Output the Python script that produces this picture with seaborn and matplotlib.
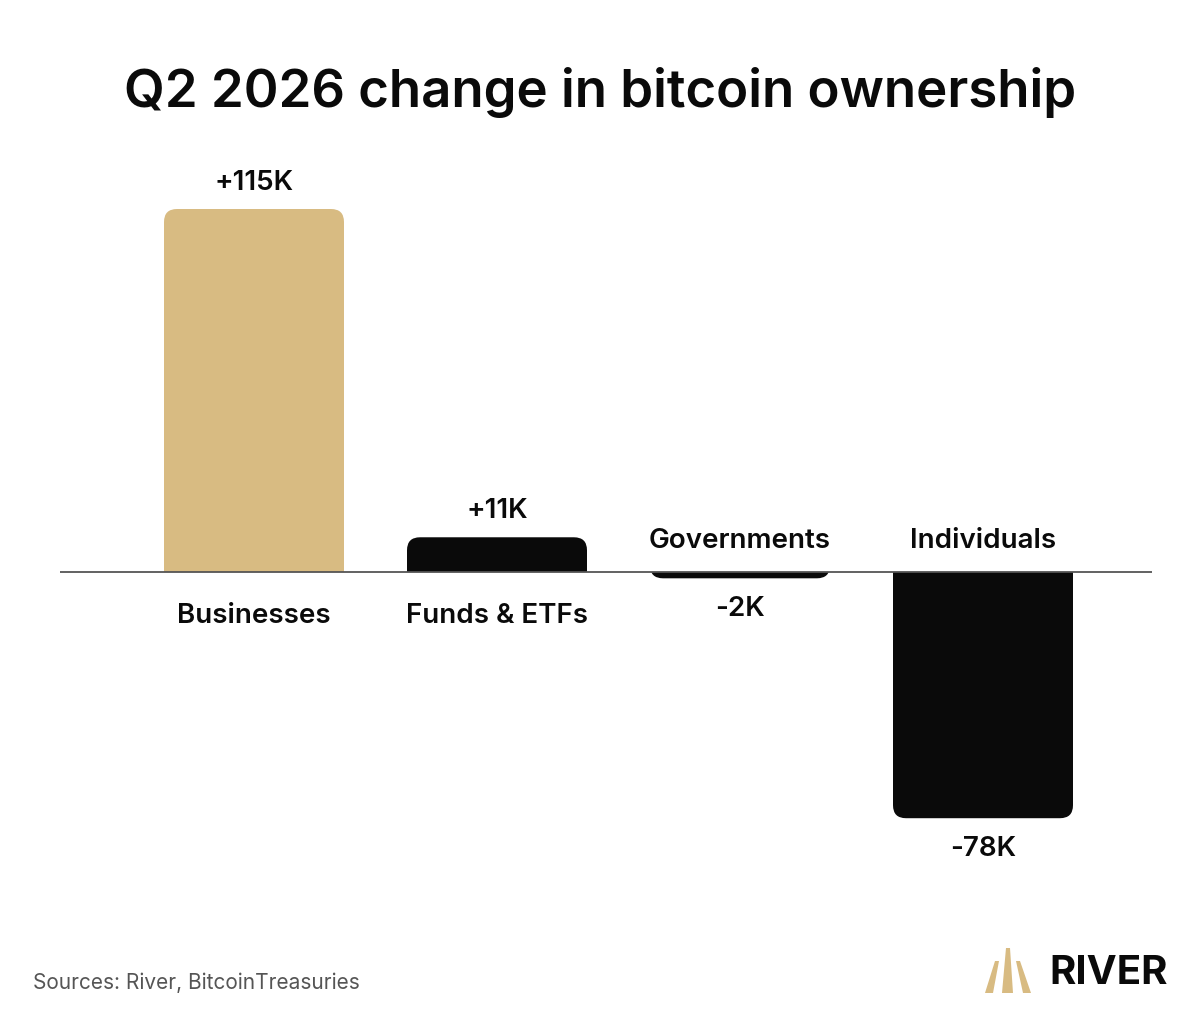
import matplotlib
matplotlib.use("Agg")
import matplotlib.pyplot as plt
import seaborn as sns
from matplotlib.patches import FancyBboxPatch, Rectangle, Polygon

categories = ["Businesses", "Funds & ETFs", "Governments", "Individuals"]
values = [115, 11, -2, -78]  # thousand BTC
value_labels = ["+115K", "+11K", "-2K", "-78K"]
bar_colors = ["#D8BB82", "#0A0A0A", "#0A0A0A", "#0A0A0A"]

sns.set_theme(style="white")
plt.rcParams["font.family"] = ["Inter", "DejaVu Sans"]

W, H = 1200, 1025
fig = plt.figure(figsize=(W / 100, H / 100), dpi=100)

# axes placed in pixel terms: x 60..1152, y 150..880 (from top)
ax_left, ax_right, ax_top, ax_bot = 60, 1152, 150, 880
ax = fig.add_axes([ax_left / W, 1 - ax_bot / H, (ax_right - ax_left) / W, (ax_bot - ax_top) / H])

px_per_k = (572 - 209) / 115
ymax = (572 - ax_top) / px_per_k
ymin = -(ax_bot - 572) / px_per_k
spacing = 243
xmin = -(254 - ax_left) / spacing
xmax = 3 + (ax_right - (254 + 3 * spacing)) / spacing
bar_w = 180 / spacing

sns.barplot(x=categories, y=values, palette=bar_colors, hue=categories,
            legend=False, width=bar_w, ax=ax)
ax.set_xlim(xmin, xmax)
ax.set_ylim(ymin, ymax)

# swap square bars for ones rounded at the outer end
r_px = 13
x_per_px = (xmax - xmin) / (ax_right - ax_left)
y_per_px = (ymax - ymin) / (ax_bot - ax_top)
for patch, val, col in zip(list(ax.patches), values, bar_colors):
    x0, w = patch.get_x(), patch.get_width()
    patch.remove()
    ext = r_px * y_per_px * 1.2
    if val >= 0:
        y0, h = -ext, val + ext
        clip = Rectangle((x0 - 1, 0), w + 2, val + 10, transform=ax.transData)
    else:
        y0, h = val, -val + ext
        clip = Rectangle((x0 - 1, val - 10), w + 2, -val + 10, transform=ax.transData)
    fb = FancyBboxPatch((x0, y0), w, h,
                        boxstyle=f"round,pad=0,rounding_size={r_px * x_per_px}",
                        mutation_aspect=y_per_px / x_per_px,
                        facecolor=col, edgecolor="none", zorder=2)
    ax.add_patch(fb)
    fb.set_clip_path(clip)

ax.axhline(0, color="#555555", lw=1.3, zorder=3)
ax.axis("off")

lab_kw = dict(ha="center", va="center", fontsize=20, fontweight="semibold",
              color="#0A0A0A")
for i, (val, cat, vl) in enumerate(zip(values, categories, value_labels)):
    if val >= 0:
        ax.text(i, val + 26 * y_per_px, vl, **lab_kw)
        ax.text(i, -44 * y_per_px, cat, **lab_kw)
    else:
        ax.text(i, val - 31 * y_per_px, vl, **lab_kw)
        ax.text(i, 31 * y_per_px, cat, **lab_kw)

fig.text(0.5, 1 - 92 / H, "Q2 2026 change in bitcoin ownership", ha="center",
         va="center", fontsize=38, fontweight="semibold", color="#0A0A0A")
fig.text(33 / W, 1 - 983 / H, "Sources: River, BitcoinTreasuries", ha="left",
         va="center", fontsize=15, color="#555555")

# River logo
gold = "#D8BB82"
stripes = [
    [(995, 961), (999, 961), (993, 993), (985, 993)],
    [(1006, 948), (1010, 948), (1013, 993), (1002, 993)],
    [(1016, 961), (1020, 961), (1031, 993), (1023, 993)],
]
for pts in stripes:
    fig.patches.append(Polygon([(x / W, 1 - y / H) for x, y in pts], closed=True,
                               transform=fig.transFigure, facecolor=gold,
                               edgecolor="none"))
fig.text(1049 / W, 1 - 973 / H, "RIVER", ha="left", va="center", fontsize=29,
         fontweight="bold", color="#0A0A0A")

fig.savefig("out.png", dpi=100, facecolor="white")
